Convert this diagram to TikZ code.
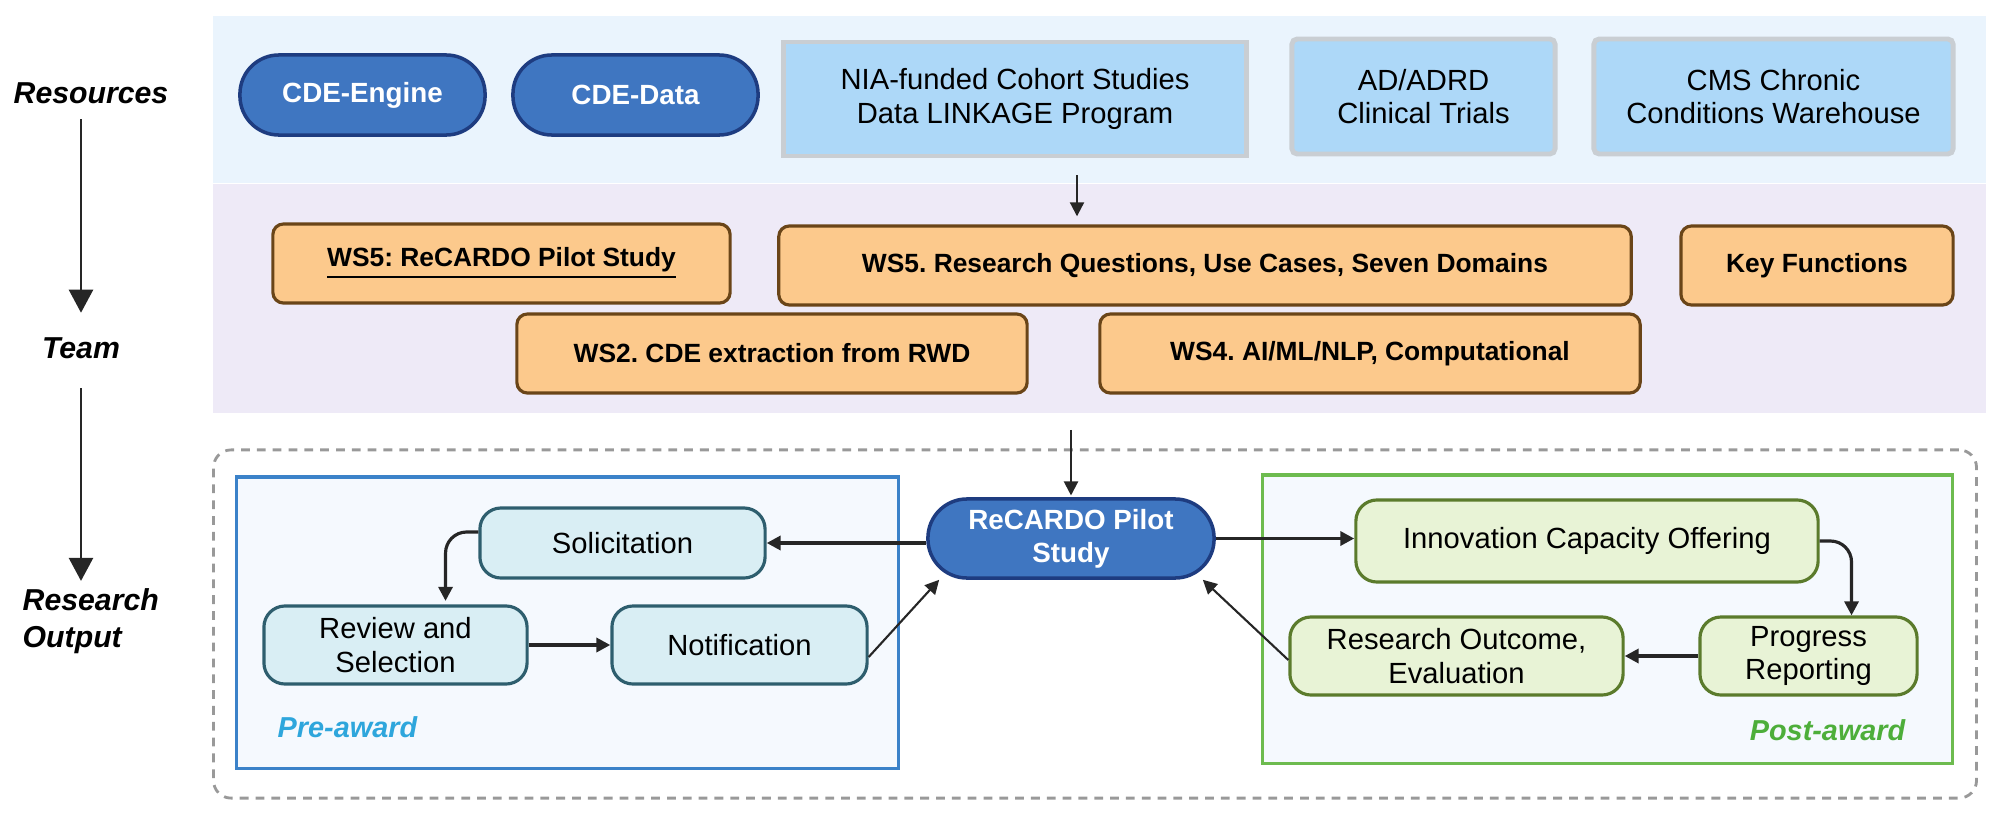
\documentclass[tikz,border=0pt]{standalone}
\usepackage{fontspec}
\setmainfont{Liberation Sans}
\usetikzlibrary{arrows.meta,positioning,calc}
\frenchspacing
\definecolor{resbg}{HTML}{EAF4FD}
\definecolor{teambg}{HTML}{EEEAF7}
\definecolor{pillfill}{HTML}{3F76C1}
\definecolor{pilldraw}{HTML}{1E3C80}
\definecolor{srcfill}{HTML}{ADD8F8}
\definecolor{srcdraw}{HTML}{C9CED3}
\definecolor{wsfill}{HTML}{FCC98C}
\definecolor{wsdraw}{HTML}{6A4518}
\definecolor{prefill}{HTML}{D9EEF4}
\definecolor{predraw}{HTML}{2E5E6E}
\definecolor{postfill}{HTML}{E8F3D6}
\definecolor{postdraw}{HTML}{5B7B2C}
\definecolor{panelfill}{HTML}{F5F9FE}
\definecolor{preline}{HTML}{3B82C9}
\definecolor{postline}{HTML}{6DBB4F}
\definecolor{pretext}{HTML}{2EA6DC}
\definecolor{posttext}{HTML}{4DAE3A}
\definecolor{arrowc}{HTML}{262626}
\begin{document}
\begin{tikzpicture}[x=0.01cm,y=-0.01cm,
 every node/.style={font=\fontsize{8.3}{9.6}\selectfont,align=center,inner sep=0pt},
 band/.style={minimum width=17.71cm},
 pill/.style={draw=pilldraw,fill=pillfill,line width=1pt,rounded corners=0.39cm,text=white,font=\fontsize{7.9}{9.4}\selectfont\bfseries,minimum width=2.45cm,minimum height=0.8cm},
 src/.style={draw=srcdraw,fill=srcfill,line width=1.4pt,rounded corners=1.5pt,minimum height=1.15cm},
 ws/.style={draw=wsdraw,fill=wsfill,line width=0.9pt,rounded corners=3pt,font=\fontsize{7.5}{9}\selectfont\bfseries,minimum height=0.79cm},
 pre/.style={draw=predraw,fill=prefill,line width=0.9pt,rounded corners=6pt,minimum height=0.78cm},
 post/.style={draw=postdraw,fill=postfill,line width=0.9pt,rounded corners=6pt,minimum height=0.78cm},
 panel/.style={fill=panelfill,line width=0.9pt},
 lane/.style={font=\fontsize{8.6}{10.4}\selectfont\bfseries\itshape},
 tag/.style={font=\fontsize{8.2}{9.8}\selectfont\bfseries\itshape},
 arr/.style={draw=arrowc,line width=0.6pt,-{Triangle[length=1.4mm,width=1.4mm]}},
 arrw/.style={arr,line width=1.1pt},
 bigarr/.style={draw=arrowc,line width=0.7pt,-{Triangle[length=2.3mm,width=2.4mm]}}]
\useasboundingbox (0,0) rectangle (2000,821);
\node[band,fill=resbg,minimum height=1.67cm] (res) at (1099.5,99.5) {};
\node[band,fill=teambg,minimum height=2.29cm] (team) at (1099.5,298.5) {};
\node[draw=gray!80,dash pattern=on 2.5pt off 2pt,line width=0.8pt,rounded corners=5pt,minimum width=17.62cm,minimum height=3.48cm] (award) at (1095,624) {};
\node[panel,draw=preline,minimum width=6.61cm,minimum height=2.91cm] (prep) at (567.5,622.5) {};
\node[panel,draw=postline,minimum width=6.89cm,minimum height=2.88cm] (postp) at (1607.5,619) {};

\node[lane] (lres) at (91,93) {Resources};
\node[lane] (lteam) at (81,348) {Team};
\node[lane,align=left,anchor=west] (lout) at (22,621) {Research\\Output};

\node[pill] (eng) at (362.5,95) {CDE-Engine};
\node[pill] (dat) at (635.5,95) {CDE-Data};
\node[src,minimum width=4.62cm,minimum height=1.14cm,rounded corners=0pt] (nia) at (1015,99) {NIA-funded Cohort Studies\\Data LINKAGE Program};
\node[src,minimum width=2.63cm] (trl) at (1423.5,96.5) {AD/ADRD\\Clinical Trials};
\node[src,minimum width=3.59cm] (cms) at (1773.5,96.5) {CMS Chronic\\Conditions Warehouse};

\node[ws,minimum width=4.57cm] (pil) at (501.5,263.5) {\underline{WS5: ReCARDO Pilot Study}};
\node[ws,minimum width=8.52cm] (rq) at (1205,265.5) {WS5. Research Questions, Use Cases, Seven Domains};
\node[ws,minimum width=2.72cm] (kf) at (1817,265.5) {Key Functions};
\node[ws,minimum width=5.10cm] (ws2) at (772,353.5) {WS2. CDE extraction from RWD};
\node[ws,minimum width=5.40cm] (ws4) at (1370,353.5) {WS4. AI/ML/NLP, Computational};

\node[pill,minimum width=2.86cm,minimum height=0.79cm] (rec) at (1071,538.5) {ReCARDO Pilot\\Study};
\node[pre,minimum width=2.85cm,minimum height=0.70cm] (sol) at (622.5,543) {Solicitation};
\node[pre,minimum width=2.63cm] (rev) at (395.5,645) {Review and\\Selection};
\node[pre,minimum width=2.55cm] (nti) at (739.5,645) {Notification};
\node[post,minimum width=4.62cm,minimum height=0.82cm] (ino) at (1587,541) {Innovation Capacity Offering};
\node[post,minimum width=2.17cm] (prg) at (1808.5,656) {Progress\\Reporting};
\node[post,minimum width=3.33cm] (rout) at (1456.5,656) {Research Outcome,\\Evaluation};
\node[tag,text=pretext,anchor=west] (pretag) at (277,727) {Pre-award};
\node[tag,text=posttext,anchor=east] (posttag) at (1906,730) {Post-award};

\draw[bigarr,shorten <=0.15cm,shorten >=0.24cm] (lres.south -| lteam) -- (lteam.north);
\draw[bigarr,shorten <=0.29cm,shorten >=0.07cm] (lteam.south) -- (lteam.south |- lout.north);
\coordinate (nl) at ($(nia.south)+(62,17)$);
\draw[arr,shorten >=2.3pt] (nl) -- (nl |- rq.north);
\coordinate (tl) at ($(team.south -| rec)+(0,16)$);
\draw[arr,shorten >=0.5pt] (tl) -- (rec.north);
\draw[arrw] (sol.east -| rec.west) -- (sol.east);
\draw[arr,line width=0.9pt,rounded corners=6pt,shorten >=1pt] ([yshift=0.11cm]sol.west) -| ([xshift=0.5cm]rev.north);
\draw[arrw] (rev) -- (nti);
\draw[arr] ([yshift=-0.12cm]nti.east) -- ([xshift=0.13cm]rec.south west);
\draw[arrw] (rec.east) -- (rec.east -| ino.west);
\draw[arr,line width=0.9pt,rounded corners=6pt] (ino.east) -| ([xshift=0.43cm]prg.north);
\draw[arrw] (prg) -- (rout);
\draw[arr] ([yshift=-0.04cm]rout.west) -- ([xshift=-0.13cm]rec.south east);
\end{tikzpicture}
\end{document}
